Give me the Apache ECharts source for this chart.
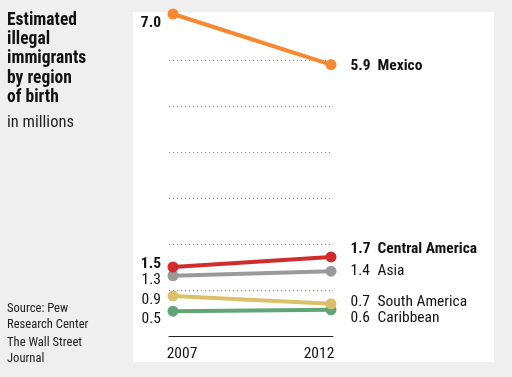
<!DOCTYPE html>
<html><head><meta charset="utf-8">
<script src="https://cdn.jsdelivr.net/npm/echarts@6/dist/echarts.min.js"></script>
<style>html,body{margin:0;padding:0;background:#efefef}#c{width:512px;height:377px}</style>
</head><body><div id="c"></div>
<script>
var years = [2007, 2012];
var regions = ['Mexico', 'Central America', 'Asia', 'South America', 'Caribbean'];
var v2007 = [7.0, 1.5, 1.31, 0.87, 0.54];
var v2012 = [5.9, 1.72, 1.41, 0.7, 0.57];
var label2007 = ['7.0', '1.5', '1.3', '0.9', '0.5'];
var label2012 = ['5.9', '1.7', '1.4', '0.7', '0.6'];
var colors = ['#f7882f', '#d12c2c', '#9a9a9a', '#dcc069', '#62a574'];
var boldRow = [true, true, false, false, false];
var leftOffsetY = [9.5, -3, 4, 4, 8];
var rightOffsetY = [1.5, -7.5, 0, -1.5, 8.5];

var FONT = "'Roboto Condensed', 'Roboto', sans-serif";
var FS = 15.5;
var series = regions.map(function (name, i) {
  var w = boldRow[i] ? 'bold' : 'normal';
  return {
    type: 'line', name: name, clip: false, silent: true,
    symbol: 'circle', symbolSize: 11,
    lineStyle: { color: colors[i], width: 4 },
    itemStyle: { color: colors[i] },
    z: 10 - i,
    data: [
      { value: [years[0], v2007[i]],
        label: { show: true, position: 'left', distance: 6.5, offset: [0, leftOffsetY[i]],
          formatter: label2007[i], color: '#111', fontSize: FS, fontWeight: w, fontFamily: FONT } },
      { value: [years[1], v2012[i]],
        label: { show: true, position: 'right', distance: 14, offset: [0, rightOffsetY[i]],
          formatter: '{v|' + label2012[i] + '}{n|' + name + '}',
          rich: {
            v: { width: 27, color: '#111', fontSize: FS, fontWeight: w, fontFamily: FONT },
            n: { color: '#111', fontSize: FS, fontWeight: w, fontFamily: FONT }
          } } }
    ]
  };
});

var chart = echarts.init(document.getElementById('c'));
chart.setOption({
  backgroundColor: '#efefef',
  animation: false,
  graphic: [{ type: 'rect', shape: { x: 133, y: 12, width: 361, height: 350 }, style: { fill: '#ffffff' }, z: -10 }],
  title: [
    { text: 'Estimated\nillegal\nimmigrants\nby region\nof birth', left: 7, top: 10.5, padding: 0,
      textStyle: { fontFamily: FONT, fontSize: 17.5, fontWeight: 'bold', lineHeight: 19.4, color: '#111' } },
    { text: 'in millions', left: 7, top: 114, padding: 0,
      textStyle: { fontFamily: FONT, fontSize: 16.5, fontWeight: 'normal', color: '#222' } },
    { text: 'Source: Pew\nResearch Center', left: 7, top: 301.5, padding: 0,
      textStyle: { fontFamily: FONT, fontSize: 12.6, fontWeight: 'normal', lineHeight: 15.5, color: '#222' } },
    { text: 'The Wall Street\nJournal', left: 7, top: 335.5, padding: 0,
      textStyle: { fontFamily: FONT, fontSize: 12.6, fontWeight: 'normal', lineHeight: 15.5, color: '#222' } }
  ],
  grid: { left: 169, right: 179, top: 60, bottom: 41 },
  xAxis: {
    type: 'value', min: 2006.8734, max: 2012.0633,
    axisLine: { show: true, lineStyle: { color: '#222', width: 1 } },
    axisTick: { show: false },
    splitLine: { show: false },
    axisLabel: {
      customValues: years, margin: 10, color: '#111', fontSize: FS, fontFamily: FONT,
      formatter: function (v) { return v === 2007 ? '{a|2007}' : '{b|2012}'; },
      rich: {
        a: { padding: [0, 0, 0, 18], fontSize: FS, fontFamily: FONT, color: '#111' },
        b: { padding: [0, 24, 0, 0], fontSize: FS, fontFamily: FONT, color: '#111' }
      }
    }
  },
  yAxis: {
    type: 'value', min: 0, max: 6, interval: 1,
    axisLine: { show: false }, axisTick: { show: false }, axisLabel: { show: false },
    splitLine: { show: true, lineStyle: { color: '#888', type: [1, 3], width: 1 } }
  },
  series: series
});
</script></body></html>
